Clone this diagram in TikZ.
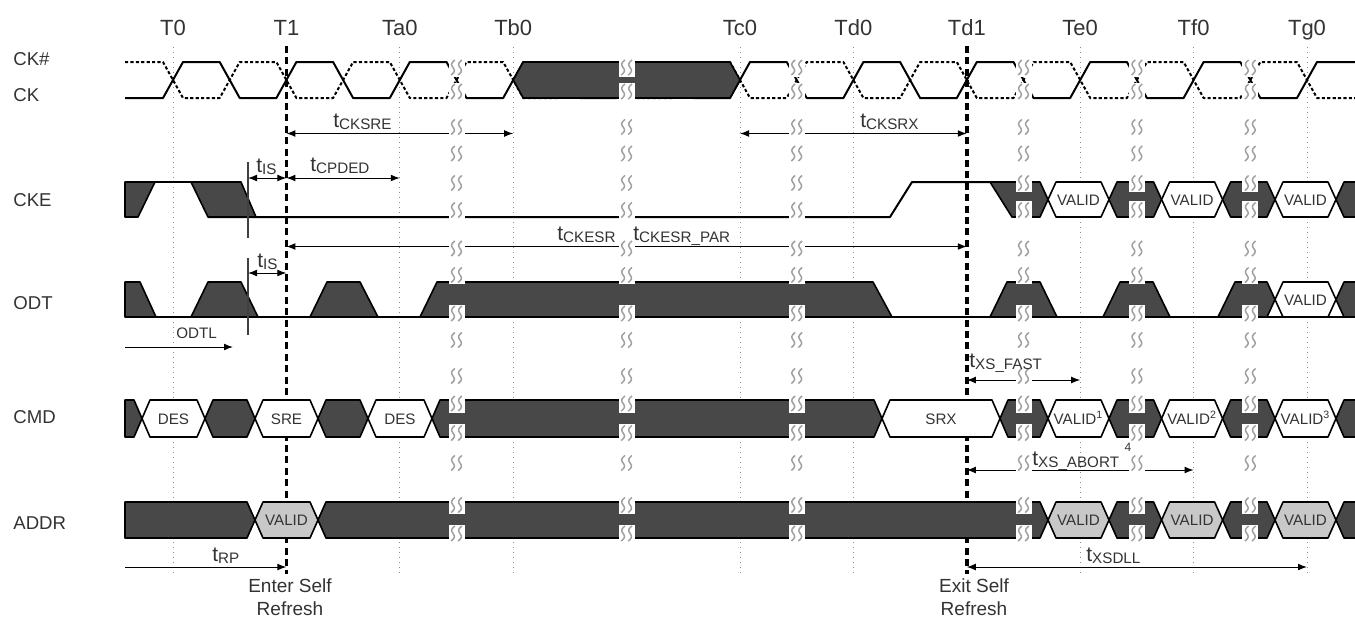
\documentclass[tikz,border=0pt]{standalone}
\usepackage{fontspec}
\setmainfont{Liberation Sans}
\usetikzlibrary{arrows.meta}
\definecolor{dkfill}{HTML}{484848}
\definecolor{validfill}{HTML}{C8C8C8}
\definecolor{squiggray}{HTML}{A0A0A0}
\definecolor{txtgray}{HTML}{333333}
\newcommand{\hexbus}[5]{\draw[#1] (#2,{(#4+#5)/2}) -- ({#2+8},#4) -- ({#3-8},#4) -- (#3,{(#4+#5)/2}) -- ({#3-8},#5) -- ({#2+8},#5) -- cycle;}
\newcommand{\tsub}[1]{t\raisebox{-1pt}{\fontsize{7.6}{9}\selectfont #1}}
\tikzset{
  sig/.style={line width=1pt, line join=round},
  ckn/.style={sig, dash pattern=on 1.6pt off 1.1pt},
  dk/.style={draw=black, fill=dkfill, line width=0.8pt, line join=round},
  bw/.style={draw=black, fill=white, line width=0.8pt, line join=round},
  bg/.style={draw=black, fill=validfill, line width=0.8pt, line join=round},
  tgrid/.style={gray!90, line width=0.5pt, dotted},
  event/.style={line width=1.7pt, dash pattern=on 3.5pt off 2.2pt},
  refline/.style={black!75, line width=0.6pt},
  dimarr/.style={line width=0.5pt, {Latex[length=4.5pt,width=3.4pt]}-{Latex[length=4.5pt,width=3.4pt]}},
  onearr/.style={line width=0.5pt, -{Latex[length=4.5pt,width=3.4pt]}},
  squig/.style={squiggray, line width=0.75pt},
  brk/.pic={
    \fill[white] (-8,-9) rectangle (8,9);
    \draw[squig] plot[domain=-7.5:7.5, samples=19, smooth, variable=\t] ({-3.5-0.25*\t+2.2*sin(24*\t)},\t);
    \draw[squig] plot[domain=-7.5:7.5, samples=19, smooth, variable=\t] ({3.5-0.25*\t+2.2*sin(24*\t)},\t);
  },
  tname/.style={font=\fontsize{11}{13}\selectfont, anchor=base, text=txtgray, inner sep=0pt},
  rowname/.style={font=\fontsize{9.3}{11}\selectfont, anchor=base west, text=txtgray, inner sep=0pt},
  buslab/.style={font=\fontsize{7.6}{9}\selectfont, anchor=base, text=txtgray, inner sep=0pt},
  tlab/.style={font=\fontsize{10.5}{12}\selectfont, anchor=base west, text=txtgray, inner sep=0pt},
  evlab/.style={font=\fontsize{9.5}{11.5}\selectfont, align=center, anchor=north, text=txtgray, inner sep=0pt}
}
\begin{document}
\begin{tikzpicture}[x=0.5pt,y=-0.5pt]
\useasboundingbox (0,0) rectangle (1355,618);
\fill[white] (0,0) rectangle (1355,618);
\foreach \tx in {173,399.8,513.2,740,853.4,1080.2,1193.6,1307}
  \draw[tgrid] (\tx,47) -- (\tx,575);
\draw[event] (286.4,46) -- (286.4,574);
\draw[event] (966.8,46) -- (966.8,574);
\foreach \tx/\tn in {173/T0,286.4/T1,399.8/Ta0,513.2/Tb0,740/Tc0,853.4/Td0,966.8/Td1,1080.2/Te0,1193.6/Tf0,1307/Tg0}
  \node[tname] (lab\tn) at (\tx,35) {\tn};
\node[rowname] (nCKn) at (13,65) {CK\#};
\node[rowname] (nCK) at (13,101) {CK};
\node[rowname] (nCKE) at (13,206.5) {CKE};
\node[rowname] (nODT) at (13,309) {ODT};
\node[rowname] (nCMD) at (13,423) {CMD};
\node[rowname] (nADDR) at (13,529) {ADDR};
\draw[sig] (125,98) foreach \k in {0,...,20} { -- ({173+56.7*\k-10},{62+36*(1-mod(\k,2))}) -- ({173+56.7*\k+10},{98-36*(1-mod(\k,2))}) } -- (1357,62);
\draw[ckn] (125,62) foreach \k in {0,...,20} { -- ({173+56.7*\k-10},{98-36*(1-mod(\k,2))}) -- ({173+56.7*\k+10},{62+36*(1-mod(\k,2))}) } -- (1357,98);
\draw[dk] (513.2,80) -- (523.2,62) -- (730,62) -- (740,80) -- (730,98) -- (523.2,98) -- cycle;
\draw[sig] (125,182) -- (241,182);
\draw[dk] (125,182) -- (155,182) -- (138,217) -- (125,217) -- cycle;
\draw[dk] (191,182) -- (241,182) -- (256,217) -- (208,217) -- cycle;
\draw[sig] (208,217) -- (890,217) -- (912,182) -- (990,182);
\draw[dk] (990,182) -- (1040,182) -- (1048,199.5) -- (1040,217) -- (1012,217) -- cycle;
\hexbus{bw}{1048}{1109}{182}{217}
\hexbus{dk}{1109}{1161.6}{182}{217}
\hexbus{bw}{1161.6}{1222.6}{182}{217}
\hexbus{dk}{1222.6}{1275}{182}{217}
\hexbus{bw}{1275}{1336}{182}{217}
\draw[dk] (1357,182) -- (1344,182) -- (1336,199.5) -- (1344,217) -- (1357,217);
\draw[sig] (125,317) -- (1357,317);
\draw[dk] (125,282) -- (140,282) -- (156,317) -- (125,317) -- cycle;
\draw[dk] (191,317) -- (208,282) -- (241,282) -- (258,317) -- cycle;
\draw[dk] (310,317) -- (327,282) -- (360,282) -- (378,317) -- cycle;
\draw[dk] (420,317) -- (437,282) -- (873,282) -- (892,317) -- cycle;
\draw[dk] (990,317) -- (1007,282) -- (1040,282) -- (1057,317) -- cycle;
\draw[dk] (1103,317) -- (1120,282) -- (1153,282) -- (1170,317) -- cycle;
\draw[dk] (1218,317) -- (1235,282) -- (1267,282) -- (1275,299.5) -- (1267,317) -- cycle;
\hexbus{bw}{1275}{1336}{282}{317}
\draw[dk] (1357,282) -- (1344,282) -- (1336,299.5) -- (1344,317) -- (1357,317);
\draw[dk] (125,400) -- (134,400) -- (142,418.5) -- (134,437) -- (125,437) -- cycle;
\hexbus{bw}{142}{205}{400}{437}
\hexbus{dk}{205}{255}{400}{437}
\hexbus{bw}{255}{318}{400}{437}
\hexbus{dk}{318}{368}{400}{437}
\hexbus{bw}{368}{432}{400}{437}
\hexbus{dk}{432}{882}{400}{437}
\hexbus{bw}{882}{1000}{400}{437}
\hexbus{dk}{1000}{1048}{400}{437}
\hexbus{bw}{1048}{1109}{400}{437}
\hexbus{dk}{1109}{1161.6}{400}{437}
\hexbus{bw}{1161.6}{1222.6}{400}{437}
\hexbus{dk}{1222.6}{1275}{400}{437}
\hexbus{bw}{1275}{1336}{400}{437}
\draw[dk] (1357,400) -- (1344,400) -- (1336,418.5) -- (1344,437) -- (1357,437);
\draw[dk] (125,502) -- (247,502) -- (255,520) -- (247,538) -- (125,538) -- cycle;
\hexbus{bg}{255}{318}{502}{538}
\hexbus{dk}{318}{1048}{502}{538}
\hexbus{bg}{1048}{1109}{502}{538}
\hexbus{dk}{1109}{1161.6}{502}{538}
\hexbus{bg}{1161.6}{1222.6}{502}{538}
\hexbus{dk}{1222.6}{1275}{502}{538}
\hexbus{bg}{1275}{1336}{502}{538}
\draw[dk] (1357,502) -- (1344,502) -- (1336,520) -- (1344,538) -- (1357,538);
\draw[refline] (248,162) -- (248,238);
\draw[refline] (248,258) -- (248,335);
\draw[dimarr] (286.4,133.5) -- (513.2,133.5);
\draw[dimarr] (740,133.5) -- (966.8,133.5);
\draw[dimarr] (248,178) -- (286.4,178);
\draw[dimarr] (286.4,178) -- (399.8,178);
\draw[dimarr] (286.4,246.5) -- (966.8,246.5);
\draw[dimarr] (248,273) -- (286.4,273);
\draw[onearr] (125,347) -- (233,347);
\draw[dimarr] (966.8,380) -- (1080.2,380);
\draw[dimarr] (966.8,470) -- (1193.6,470);
\draw[onearr] (125,567) -- (286.4,567);
\draw[dimarr] (966.8,567) -- (1307,567);
\foreach \bx in {456.5,626.6,796.7,1023.5,1136.9,1250.3}
  \foreach \by in {67.5,91.5,127,153.5,183,210,248.5,275,313.5,340,376,403.5,433,463,505,533.5}
    \pic at (\bx,\by) {brk};
\node[buslab] (ckeV1) at (1078.5,205) {VALID};
\node[buslab] (ckeV2) at (1192.1,205) {VALID};
\node[buslab] (ckeV3) at (1305.5,205) {VALID};
\node[buslab] (odtV3) at (1305.5,305) {VALID};
\node[buslab] (cmdDES1) at (173.5,424) {DES};
\node[buslab] (cmdSRE) at (286.5,424) {SRE};
\node[buslab] (cmdDES2) at (400,424) {DES};
\node[buslab] (cmdSRX) at (941,424) {SRX};
\node[buslab] (cmdV1) at (1078.5,424) {VALID\textsuperscript{1}};
\node[buslab] (cmdV2) at (1192.1,424) {VALID\textsuperscript{2}};
\node[buslab] (cmdV3) at (1305.5,424) {VALID\textsuperscript{3}};
\node[buslab] (adrV0) at (286.5,525.5) {VALID};
\node[buslab] (adrV1) at (1078.5,525.5) {VALID};
\node[buslab] (adrV2) at (1192.1,525.5) {VALID};
\node[buslab] (adrV3) at (1305.5,525.5) {VALID};
\node[tlab] (lCKSRE) at (333,127.5) {\tsub{CKSRE}};
\node[tlab] (lCKSRX) at (860,127.5) {\tsub{CKSRX}};
\node[tlab] (lISa) at (256,172.5) {\tsub{IS}};
\node[tlab] (lCPDED) at (310,171.5) {\tsub{CPDED}};
\node[tlab] (lCKESR) at (557,240.5) {\tsub{CKESR}};
\node[tlab] (lCKESRP) at (633,240.5) {\tsub{CKESR\_PAR}};
\node[tlab] (lISb) at (257,267.5) {\tsub{IS}};
\node[buslab, anchor=base west] (lODTL) at (176,338) {ODTL};
\node[tlab] (lXSF) at (969,367.5) {\tsub{XS\_FAST}};
\node[tlab] (lXSA) at (1032,465.5) {\tsub{XS\_ABORT}};
\node[font=\fontsize{6}{7}\selectfont, text=txtgray, inner sep=0pt] (lfour) at (1128,447) {4};
\node[tlab] (lXSDLL) at (1086,561) {\tsub{XSDLL}};
\node[tlab] (lRP) at (212,561) {\tsub{RP}};
\node[evlab] (enterSR) at (290,578) {Enter Self\\Refresh};
\node[evlab] (exitSR) at (974,578) {Exit Self\\Refresh};
\end{tikzpicture}
\end{document}
